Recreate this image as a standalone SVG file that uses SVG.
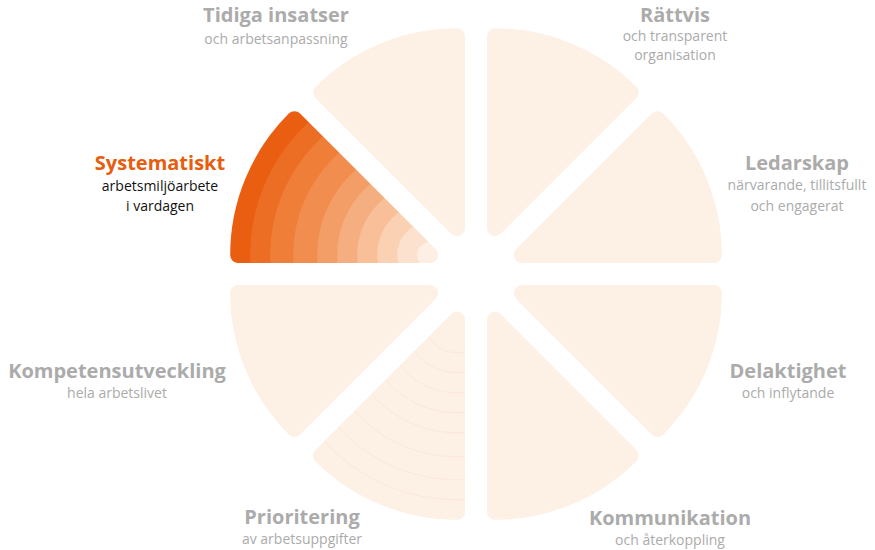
<svg xmlns="http://www.w3.org/2000/svg" width="875" height="550" viewBox="0 0 875 550">
<style>
.s{fill:#FDF0E5;stroke:#FDF0E5;stroke-width:16;stroke-linejoin:round}
.t{font-family:"Open Sans","Liberation Sans",sans-serif;font-weight:bold;font-size:20px;fill:#ABABAB;text-anchor:middle}
.u{font-family:"Open Sans","Liberation Sans",sans-serif;font-size:14px;fill:#ABABAB;text-anchor:middle}
.arc{fill:none;stroke:#FAE6D6;stroke-width:0.8}
</style>
<defs>
<mask id="m7"><path d="M430.17,255.02 L238.17,255.02 A192,192 0 0 1 294.41,119.26 Z" fill="#fff" stroke="#fff" stroke-width="16" stroke-linejoin="round"/></mask>
<mask id="m5"><path d="M457.02,319.82 L457.02,511.82 A192,192 0 0 1 321.26,455.58 Z" fill="#fff" stroke="#fff" stroke-width="16" stroke-linejoin="round"/></mask>
</defs>
<g id="rattvis"><path class="s" d="M494.98,228.18 L494.98,36.18 A192,192 0 0 1 630.74,92.42 Z"/>
<text class="t" x="675" y="22">Rättvis</text><text class="u" x="675" y="41">och transparent</text><text class="u" x="675" y="60">organisation</text></g>
<g id="ledarskap"><path class="s" d="M521.83,255.02 L657.59,119.26 A192,192 0 0 1 713.83,255.02 Z"/>
<text class="t" x="797" y="170">Ledarskap</text><text class="u" x="797" y="190">närvarande, tillitsfullt</text><text class="u" x="797" y="211">och engagerat</text></g>
<g id="delaktighet"><path class="s" d="M521.83,292.98 L713.83,292.98 A192,192 0 0 1 657.59,428.74 Z"/>
<text class="t" x="788" y="378">Delaktighet</text><text class="u" x="788" y="398">och inflytande</text></g>
<g id="kommunikation"><path class="s" d="M494.98,319.82 L630.74,455.58 A192,192 0 0 1 494.98,511.82 Z"/>
<text class="t" x="670" y="525">Kommunikation</text><text class="u" x="670" y="545">och återkoppling</text></g>
<g id="prioritering"><path class="s" d="M457.02,319.82 L457.02,511.82 A192,192 0 0 1 321.26,455.58 Z" stroke="#FBDCC4" stroke-width="17"/>
<path class="s" d="M457.02,319.82 L457.02,511.82 A192,192 0 0 1 321.26,455.58 Z" stroke-width="15"/>
<g mask="url(#m5)"><circle class="arc" cx="457.02" cy="319.82" r="180"/><circle class="arc" cx="457.02" cy="319.82" r="160"/><circle class="arc" cx="457.02" cy="319.82" r="137"/><circle class="arc" cx="457.02" cy="319.82" r="113"/><circle class="arc" cx="457.02" cy="319.82" r="93"/><circle class="arc" cx="457.02" cy="319.82" r="73"/><circle class="arc" cx="457.02" cy="319.82" r="53"/><circle class="arc" cx="457.02" cy="319.82" r="33"/></g>
<text class="t" x="302" y="524">Prioritering</text><text class="u" x="302" y="544">av arbetsuppgifter</text></g>
<g id="kompetens"><path class="s" d="M430.17,292.98 L294.41,428.74 A192,192 0 0 1 238.17,292.98 Z"/>
<text class="t" x="117" y="378">Kompetensutveckling</text><text class="u" x="117" y="398">hela arbetslivet</text></g>
<g id="systematiskt"><g mask="url(#m7)">
<circle cx="430.17" cy="255.02" r="210" fill="#E95E10"/>
<circle cx="430.17" cy="255.02" r="180" fill="#EC6E24"/>
<circle cx="430.17" cy="255.02" r="160" fill="#EF7E39"/>
<circle cx="430.17" cy="255.02" r="137" fill="#F18E4F"/>
<circle cx="430.17" cy="255.02" r="113" fill="#F39E67"/>
<circle cx="430.17" cy="255.02" r="93" fill="#F5AE7F"/>
<circle cx="430.17" cy="255.02" r="73" fill="#F8BF98"/>
<circle cx="430.17" cy="255.02" r="53" fill="#FAD1B3"/>
<circle cx="430.17" cy="255.02" r="33" fill="#FCE2CE"/>
<circle cx="430.17" cy="255.02" r="13" fill="#FDEFE4"/>
</g>
<text class="t" x="160" y="170" style="fill:#E85D0D">Systematiskt</text><text class="u" x="160" y="191" style="fill:#111">arbetsmiljöarbete</text><text class="u" x="160" y="211" style="fill:#111">i vardagen</text></g>
<g id="tidiga"><path class="s" d="M457.02,228.18 L321.26,92.42 A192,192 0 0 1 457.02,36.18 Z"/>
<text class="t" x="276" y="22">Tidiga insatser</text><text class="u" x="276" y="44">och arbetsanpassning</text></g>
<g id="connectors"/>
</svg>
